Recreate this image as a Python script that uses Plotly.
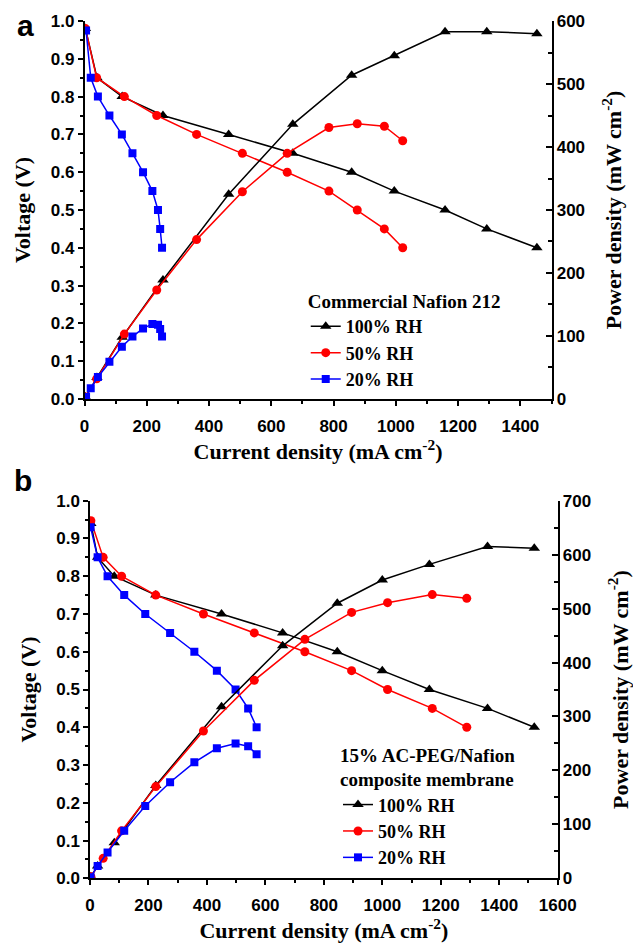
"""Polarization and power density curves for two membranes."""

import plotly.graph_objects as go

# panel a: commercial Nafion 212
A_I_100 = [3, 40, 121, 252, 463, 669, 858, 995, 1158, 1292, 1453]
A_V_100 = [0.98, 0.85, 0.80, 0.75, 0.70, 0.65, 0.60, 0.55, 0.50, 0.45, 0.40]
A_P_100 = [3, 34, 98, 189, 325, 436, 514, 545, 583, 583, 580]

A_I_50 = [3, 39, 128, 232, 360, 507, 651, 785, 876, 963, 1022]
A_V_50 = [0.98, 0.85, 0.80, 0.75, 0.70, 0.65, 0.60, 0.55, 0.50, 0.45, 0.40]
A_P_50 = [3, 32, 103, 173, 253, 329, 390, 431, 437, 433, 410]

A_I_20 = [5, 20, 43, 80, 120, 154, 188, 218, 236, 243, 249]
A_V_20 = [0.975, 0.85, 0.80, 0.75, 0.70, 0.65, 0.60, 0.55, 0.50, 0.45, 0.40]
A_P_20 = [3, 17, 35, 59, 83, 99, 112, 119, 118, 111, 99]

# panel b: 15% AC-PEG/Nafion composite membrane
B_I_100 = [3, 26, 83, 225, 450, 659, 846, 1000, 1161, 1360, 1520]
B_V_100 = [0.94, 0.85, 0.80, 0.75, 0.70, 0.65, 0.60, 0.55, 0.50, 0.45, 0.40]
B_P_100 = [3, 23, 66, 172, 318, 431, 510, 553, 582, 615, 612]

B_I_50 = [3, 45, 108, 225, 388, 562, 735, 895, 1018, 1171, 1289]
B_V_50 = [0.947, 0.85, 0.80, 0.75, 0.70, 0.65, 0.60, 0.55, 0.50, 0.45, 0.40]
B_P_50 = [3, 37, 88, 170, 273, 367, 443, 493, 511, 526, 519]

B_I_20 = [2, 26, 60, 117, 189, 274, 357, 434, 498, 541, 570]
B_V_20 = [0.93, 0.85, 0.80, 0.75, 0.70, 0.65, 0.60, 0.55, 0.50, 0.45, 0.40]
B_P_20 = [2, 23, 48, 88, 134, 178, 215, 241, 250, 245, 230]

SERIES_NAMES = ['100% RH', '50% RH', '20% RH']
COLORS = ['black', '#FF0000', '#0000FF']
SYMBOLS = ['triangle-up', 'circle', 'square']
SIZES = [10, 9, 8]

TICK_FONT = dict(family='Liberation Sans, Arial', size=17, color='black', weight='bold')
TITLE_FONT = dict(family='Liberation Serif, Times New Roman', size=22, color='black', weight='bold')
LEGEND_TITLE_FONT = dict(family='Liberation Serif, Times New Roman', size=19, color='black', weight='bold')
LEGEND_FONT = dict(family='Liberation Serif, Times New Roman', size=18, color='black', weight='bold')


def add_panel(fig, series, xa, ya_v, ya_p, legend):
    for (cur, volt, powr), name, color, sym, size in zip(series, SERIES_NAMES, COLORS, SYMBOLS, SIZES):
        style = dict(mode='lines+markers', line=dict(color=color, width=1.5),
                     marker=dict(symbol=sym, size=size, color=color))
        fig.add_trace(go.Scatter(x=cur, y=volt, xaxis=xa, yaxis=ya_v, name=name,
                                 legendgroup=legend + name, legend=legend, **style))
        fig.add_trace(go.Scatter(x=cur, y=powr, xaxis=xa, yaxis=ya_p, name=name,
                                 legendgroup=legend + name, legend=legend,
                                 showlegend=False, **style))


def x_axis(domain, anchor, xmax, title, standoff):
    return dict(domain=domain, anchor=anchor, range=[0, xmax], dtick=200, tick0=0,
                ticks='outside', ticklen=5, tickwidth=1.5, tickcolor='black', ticklabelstandoff=6,
                minor=dict(ticks='outside', ticklen=3, dtick=100, tickwidth=1.5, tickcolor='black'),
                showline=True, linewidth=1.5, linecolor='black', showgrid=False, zeroline=False,
                tickfont=TICK_FONT, automargin=False,
                title=dict(text=title, font=TITLE_FONT, standoff=standoff))


def x_top(overlay, anchor, xmax):
    return dict(overlaying=overlay, anchor=anchor, side='top', range=[0, xmax], dtick=200, tick0=0,
                ticks='inside', ticklen=6, tickwidth=1.5, tickcolor='black',
                minor=dict(ticks='inside', ticklen=4, dtick=100, tickwidth=1.5, tickcolor='black'),
                showline=True, linewidth=1.5, linecolor='black', showgrid=False, zeroline=False,
                showticklabels=False, automargin=False)


def y_left(domain, anchor):
    return dict(domain=domain, anchor=anchor, range=[0, 1.0], dtick=0.1, tick0=0, tickformat='.1f',
                ticks='outside', ticklen=5, tickwidth=1.5, tickcolor='black',
                minor=dict(ticks='outside', ticklen=3, dtick=0.05, tickwidth=1.5, tickcolor='black'),
                showline=True, linewidth=1.5, linecolor='black', showgrid=False, zeroline=False,
                tickfont=TICK_FONT, automargin=False,
                title=dict(text='Voltage (V)', font=TITLE_FONT, standoff=14))


def y_right(overlay, anchor, ymax):
    return dict(overlaying=overlay, anchor=anchor, side='right', range=[0, ymax], dtick=100, tick0=0,
                ticks='inside', ticklen=6, tickwidth=1.5, tickcolor='black',
                minor=dict(ticks='inside', ticklen=4, dtick=50, tickwidth=1.5, tickcolor='black'),
                showline=True, linewidth=1.5, linecolor='black', showgrid=False, zeroline=False,
                tickfont=TICK_FONT, automargin=False,
                title=dict(text='Power density (mW cm<sup>-2</sup>)', font=TITLE_FONT, standoff=22))


fig = go.Figure()
add_panel(fig, [(A_I_100, A_V_100, A_P_100), (A_I_50, A_V_50, A_P_50), (A_I_20, A_V_20, A_P_20)],
          'x', 'y', 'y2', 'legend')
add_panel(fig, [(B_I_100, B_V_100, B_P_100), (B_I_50, B_V_50, B_P_50), (B_I_20, B_V_20, B_P_20)],
          'x3', 'y3', 'y4', 'legend2')

x_title = 'Current density (mA cm<sup>-2</sup>)'
legend_style = dict(font=LEGEND_FONT, bgcolor='rgba(0,0,0,0)', xanchor='left', yanchor='top',
                    tracegroupgap=0, itemwidth=30)
label_font = dict(family='Liberation Sans, Arial', size=30, color='black', weight='bold')

fig.update_layout(
    width=633, height=943,
    margin=dict(l=0, r=0, t=0, b=0),
    plot_bgcolor='white', paper_bgcolor='white',
    xaxis=x_axis([0.1335, 0.8713], 'y', 1500, x_title, 4),
    xaxis2=x_top('x', 'y', 1500),
    yaxis=y_left([0.5769, 0.9777], 'x'),
    yaxis2=y_right('y', 'x', 600),
    xaxis3=x_axis([0.1422, 0.8810], 'y3', 1600, x_title, 8),
    xaxis4=x_top('x3', 'y3', 1600),
    yaxis3=y_left([0.0686, 0.4690], 'x3'),
    yaxis4=y_right('y3', 'x3', 700),
    legend=dict(x=0.483, y=0.6995, title=dict(text='Commercial Nafion 212', font=LEGEND_TITLE_FONT),
                **legend_style),
    legend2=dict(x=0.534, y=0.2185,
                 title=dict(text='15% AC-PEG/Nafion<br>composite membrane', font=LEGEND_TITLE_FONT),
                 **legend_style),
    annotations=[
        dict(text='a', x=0.04, y=0.973, xref='paper', yref='paper', showarrow=False,
             xanchor='center', yanchor='middle', font=label_font),
        dict(text='b', x=0.036, y=0.490, xref='paper', yref='paper', showarrow=False,
             xanchor='center', yanchor='middle', font=label_font),
    ],
)

fig.write_html("out.html", config={'displayModeBar': False},
               post_script="document.body.style.margin='0';document.body.style.overflow='hidden';")
